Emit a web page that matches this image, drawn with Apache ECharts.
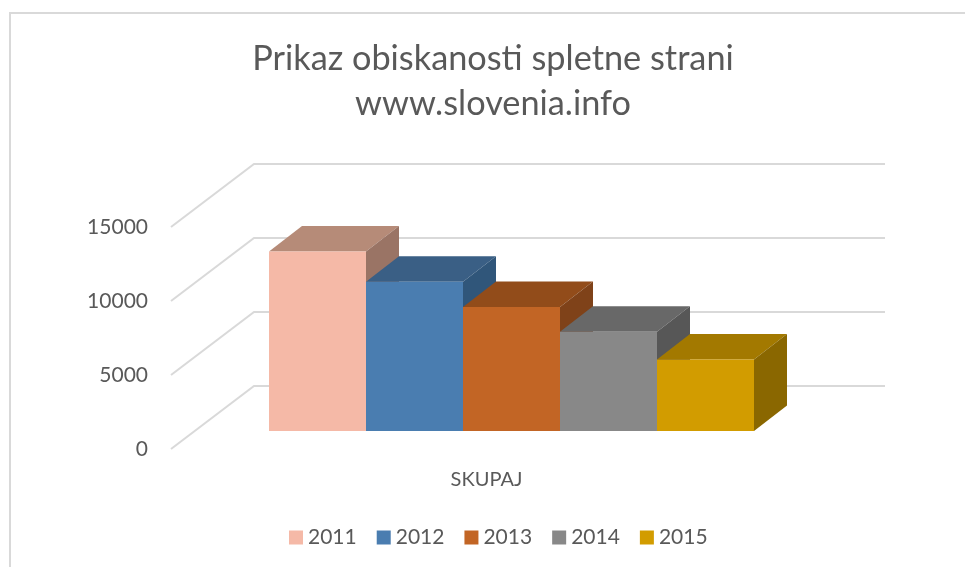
<!DOCTYPE html>
<html>
<head>
<meta charset="utf-8">
<style>
  html, body { margin: 0; padding: 0; background: #fff; }
  #chart { width: 965px; height: 567px; }
</style>
<script src="https://cdn.jsdelivr.net/npm/echarts@6/dist/echarts.min.js"></script>
</head>
<body>
<div id="chart"></div>
<script>
// Podatki
const kategorije = ['SKUPAJ'];
const leta = ['2011', '2012', '2013', '2014', '2015'];
const obisk2011 = [12130];
const obisk2012 = [10090];
const obisk2013 = [8380];
const obisk2014 = [6700];
const obisk2015 = [4830];
const yTicks = [0, 5000, 10000, 15000];

// Barve ploskev
const barveSpredaj = ['#F5B9A7', '#4A7DB0', '#C26525', '#888888', '#D29C00'];
const barveZgoraj = ['#B68B78', '#3A5F85', '#924C1A', '#686868', '#A37900'];
const barveDesno = ['#9A7465', '#30567A', '#7F4219', '#575757', '#8A6700'];

const FONT = 'Lato';
const TEXT = '#595959';
const LINE = '#D9D9D9';

// 3D projekcija: stene in stolpci
const WALL_DX = 83, WALL_DY = -63;
const BAR_W = 97, BAR_DX = 33, BAR_DY = -25.5;
const PLANE_DX = 25, PLANE_DY = -18;

const myChart = echarts.init(document.getElementById('chart'));

function renderWall(params, api) {
  const v = api.value(0);
  const cs = params.coordSys;
  const y = api.coord([kategorije[0], v])[1];
  const x0 = cs.x;
  return {
    type: 'polyline',
    shape: { points: [[x0, y], [x0 + WALL_DX, y + WALL_DY], [885, y + WALL_DY]] },
    style: { stroke: LINE, lineWidth: 2, fill: null },
    silent: true,
  };
}

function renderBar(idx) {
  return function (params, api) {
    const top = api.coord([api.value(0), api.value(1)]);
    const base = api.coord([api.value(0), 0]);
    const left = top[0] + PLANE_DX + (idx - leta.length / 2) * BAR_W;
    const right = left + BAR_W;
    const yTop = top[1] + PLANE_DY;
    const yBase = base[1] + PLANE_DY;
    return {
      type: 'group',
      children: [
        {
          type: 'polygon',
          shape: { points: [[left, yTop], [right, yTop], [right + BAR_DX, yTop + BAR_DY], [left + BAR_DX, yTop + BAR_DY]] },
          style: { fill: barveZgoraj[idx] },
        },
        {
          type: 'polygon',
          shape: { points: [[right, yTop], [right + BAR_DX, yTop + BAR_DY], [right + BAR_DX, yBase + BAR_DY], [right, yBase]] },
          style: { fill: barveDesno[idx] },
        },
        {
          type: 'polygon',
          shape: { points: [[left, yTop], [right, yTop], [right, yBase], [left, yBase]] },
          style: { fill: barveSpredaj[idx] },
        },
      ],
    };
  };
}

const vrednosti = [obisk2011, obisk2012, obisk2013, obisk2014, obisk2015];

const series = [
  {
    type: 'custom',
    name: 'stene',
    renderItem: renderWall,
    data: yTicks.map((t) => [t]),
    encode: { y: 0 },
    silent: true,
    z: 1,
  },
];

leta.forEach((leto, i) => {
  series.push({
    type: 'custom',
    name: leto,
    renderItem: renderBar(i),
    data: vrednosti[i].map((v, k) => [kategorije[k], v]),
    encode: { x: 0, y: 1 },
    itemStyle: { color: barveSpredaj[i] },
    z: 2,
  });
});

const option = {
  animation: false,
  backgroundColor: '#fff',
  graphic: [
    {
      type: 'rect',
      shape: { x: 10, y: 13, width: 1000, height: 600 },
      style: { fill: null, stroke: LINE, lineWidth: 2 },
      silent: true,
      z: 0,
    },
  ],
  title: {
    text: 'Prikaz obiskanosti spletne strani\nwww.slovenia.info',
    left: 488,
    top: 31,
    textAlign: 'center',
    textStyle: {
      fontFamily: FONT,
      fontSize: 34.3,
      fontWeight: 'normal',
      color: TEXT,
      lineHeight: 45,
    },
  },
  legend: {
    data: leta,
    left: 289,
    top: 527,
    padding: 0,
    icon: 'rect',
    itemWidth: 14,
    itemHeight: 14,
    itemGap: 20,
    textStyle: { fontFamily: FONT, fontSize: 21, color: TEXT },
  },
  grid: { left: 171, right: 163, top: 227, bottom: 118 },
  xAxis: {
    type: 'category',
    data: kategorije,
    axisLine: { show: false },
    axisTick: { show: false },
    axisLabel: { fontFamily: FONT, fontSize: 20, color: TEXT, margin: 21 },
  },
  yAxis: {
    type: 'value',
    min: 0,
    max: 15000,
    interval: 5000,
    axisLine: { show: false },
    axisTick: { show: false },
    splitLine: { show: false },
    axisLabel: {
      fontFamily: FONT,
      fontSize: 21,
      color: TEXT,
      margin: 23,
      padding: [4, 0, 0, 0],
      formatter: (v) => String(v),
    },
  },
  series: series,
};

myChart.setOption(option);
</script>
</body>
</html>
